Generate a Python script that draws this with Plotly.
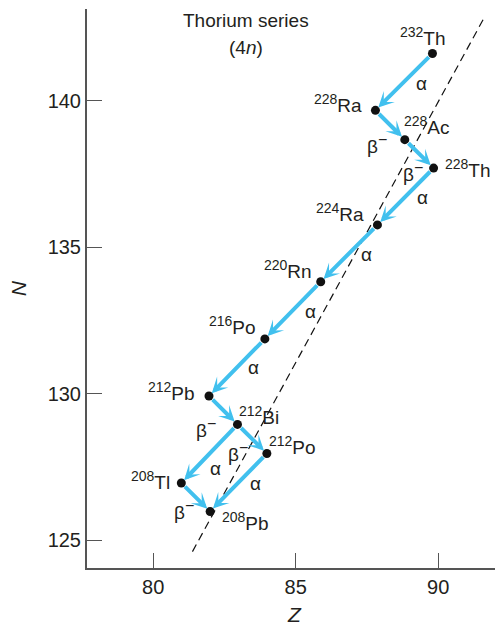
import plotly.graph_objects as go

# ---- data ----
elements = ["Th", "Ra", "Ac", "Th", "Ra", "Rn", "Po", "Pb", "Bi", "Po", "Tl", "Pb"]
mass_numbers = [232, 228, 228, 228, 224, 220, 216, 212, 212, 212, 208, 208]
Z_vals = [89.80, 87.80, 88.83, 89.84, 87.87, 85.88, 83.92, 81.96, 82.96, 83.99, 80.99, 82.00]
N_vals = [141.62, 139.68, 138.68, 137.71, 135.77, 133.83, 131.88, 129.93, 128.96, 127.97, 126.96, 125.99]

decay_parent = [0, 1, 2, 3, 4, 5, 6, 7, 8, 8, 9, 10]
decay_daughter = [1, 2, 3, 4, 5, 6, 7, 8, 9, 10, 11, 11]
decay_mode = ["α", "β", "β", "α", "α", "α", "α", "β", "β", "α", "α", "β"]

# decay-mode label positions (Z, N)
mode_Z = [89.42, 87.85, 89.13, 89.45, 87.49, 85.51, 83.53, 81.85, 82.99, 82.18, 83.60, 81.08]
mode_N = [140.60, 138.53, 137.58, 136.72, 134.77, 132.81, 130.89, 128.84, 128.02, 127.46, 126.95, 126.04]

# stability (dashed) line end points
line_Z = [81.38, 91.58]
line_N = [124.62, 142.78]

x_ticks = [80, 85, 90]
y_ticks = [125, 130, 135, 140]

# ---- styling ----
FONT = "Liberation Sans, Arial, Helvetica, sans-serif"
TXT = "#231f20"
ARROW = "#41c0ee"
AXIS = "#555555"

# label placement relative to each dot: (xanchor, xshift, yshift)
label_place = [
    ("center", -9, 17),
    ("right", -11, 7),
    ("center", 22, 14),
    ("left", 9, 0),
    ("right", -11, 12),
    ("right", -7, 12),
    ("right", -7, 13),
    ("right", -12, 5),
    ("left", 0, 9),
    ("left", 0, 8),
    ("right", -9, 3),
    ("left", 10, -10),
]


def sup(s, px):
    return f"<sup><span style='font-size:{px}px'>{s}</span></sup>"


def mode_label(m):
    return "α" if m == "α" else "β" + sup("−", 16)


fig = go.Figure()

fig.add_trace(go.Scatter(
    x=line_Z, y=line_N, mode="lines",
    line=dict(color="#111111", width=1.2, dash="8px,5px"),
    hoverinfo="skip", showlegend=False,
))

annotations = []
for p, d in zip(decay_parent, decay_daughter):
    annotations.append(dict(
        x=Z_vals[d], y=N_vals[d], ax=Z_vals[p], ay=N_vals[p],
        xref="x", yref="y", axref="x", ayref="y",
        showarrow=True, arrowhead=3, arrowsize=0.65, arrowwidth=4,
        arrowcolor=ARROW, standoff=4, startstandoff=3, text="",
    ))

fig.add_trace(go.Scatter(
    x=Z_vals, y=N_vals, mode="markers",
    marker=dict(color="#111111", size=9),
    hoverinfo="skip", showlegend=False,
))

for el, a, z, n, (xa, xs, ys) in zip(elements, mass_numbers, Z_vals, N_vals, label_place):
    annotations.append(dict(
        x=z, y=n, xref="x", yref="y", showarrow=False,
        text=sup(a, 14) + el, xanchor=xa, yanchor="middle",
        xshift=xs, yshift=ys, font=dict(family=FONT, size=19, color=TXT),
    ))

for m, z, n in zip(decay_mode, mode_Z, mode_N):
    annotations.append(dict(
        x=z, y=n, xref="x", yref="y", showarrow=False, text=mode_label(m),
        xanchor="center", yanchor="middle",
        font=dict(family=FONT, size=19, color=TXT),
    ))

annotations += [
    dict(x=83.26, y=142.76, xref="x", yref="y", showarrow=False,
         xanchor="center", yanchor="middle",
         text="Thorium series", font=dict(family=FONT, size=19, color=TXT)),
    dict(x=83.26, y=141.84, xref="x", yref="y", showarrow=False,
         xanchor="center", yanchor="middle",
         text="(4<i>n</i>)", font=dict(family=FONT, size=19, color=TXT)),
    dict(x=0.5036, y=-0.0823, xref="paper", yref="paper", showarrow=False,
         xanchor="center", yanchor="middle",
         text="<i>Z</i>", font=dict(family=FONT, size=21, color=TXT)),
    dict(x=-0.165, y=0.5, xref="paper", yref="paper", showarrow=False,
         xanchor="center", yanchor="middle",
         text="<i>N</i>", textangle=-90, font=dict(family=FONT, size=21, color=TXT)),
]

# page body has an 8px default margin: figure is sized/offset to compensate
fig.update_layout(
    width=495, height=626,
    margin=dict(l=79, r=3, t=1, b=66),
    paper_bgcolor="white", plot_bgcolor="white",
    annotations=annotations,
    showlegend=False,
)
fig.update_xaxes(
    range=[77.68, 92.17], tickvals=x_ticks, ticks="inside", ticklen=15,
    tickwidth=1.3, tickcolor=AXIS, showline=True, linecolor=AXIS, linewidth=2,
    showgrid=False, zeroline=False, tickfont=dict(family=FONT, size=20, color=TXT),
)
fig.update_yaxes(
    range=[124.06, 143.14], tickvals=y_ticks, ticks="inside", ticklen=15,
    tickwidth=1.3, tickcolor=AXIS, showline=True, linecolor=AXIS, linewidth=2,
    showgrid=False, zeroline=False, tickfont=dict(family=FONT, size=20, color=TXT),
)

fig.write_html("out.html")
